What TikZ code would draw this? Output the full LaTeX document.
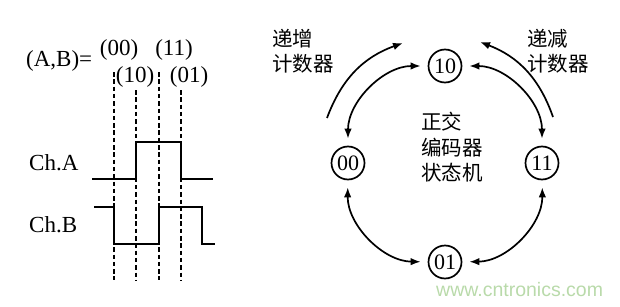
\documentclass[tikz,border=0pt]{standalone}
\usepackage{fontspec}
\setmainfont{Liberation Serif}
\newfontfamily\cjk{Noto Sans CJK SC}
\newfontfamily\wmfont{Liberation Sans}
\usetikzlibrary{arrows.meta}
\begin{document}
\begin{tikzpicture}[x=1pt,y=1pt,
  lbl/.style={font=\fontsize{23}{26}\selectfont, inner sep=0pt},
  cjklbl/.style={font=\cjk\fontsize{20.5}{25.5}\selectfont, align=left, inner sep=0pt, anchor=north west},
  sig/.style={line width=2.2pt},
  guide/.style={line width=2.1pt, dash pattern=on 4.5pt off 2.8pt},
  state/.style={circle, draw, line width=1.7pt, minimum size=33pt, inner sep=0pt, font=\fontsize{22}{24}\selectfont},
  conn/.style={line width=1.7pt, {Latex[length=10pt,width=7.5pt]}-{Latex[length=10pt,width=7.5pt]}, shorten <=7pt, shorten >=7pt},
  outer/.style={line width=1.7pt, -{Latex[length=10pt,width=7.5pt]}}
]
\useasboundingbox (0,0) rectangle (620,306);

% ---------- left: timing diagram ----------
\node[lbl, anchor=west] (ab) at (26,245) {(A,B)=};
\node[lbl] (l00) at (119,256) {(00)};
\node[lbl] (l11) at (174,256) {(11)};
\node[lbl] (l10) at (135,229) {(10)};
\node[lbl] (l01) at (189,229) {(01)};
\node[lbl, anchor=west] (cha) at (29,143) {Ch.A};
\node[lbl, anchor=west] (chb) at (29,81) {Ch.B};

\coordinate (g1t) at (114,234); \coordinate (g1b) at (114,26);
\coordinate (g2t) at (136,216); \coordinate (g2b) at (136,26);
\coordinate (g3t) at (159,234); \coordinate (g3b) at (159,26);
\coordinate (g4t) at (181,216); \coordinate (g4b) at (181,26);
\draw[guide] (g1t) -- (g1b);
\draw[guide] (g2t) -- (g2b);
\draw[guide] (g3t) -- (g3b);
\draw[guide] (g4t) -- (g4b);

\coordinate (a0) at (92,127);
\coordinate (a1) at (213,127);
\draw[sig] (a0) -- (136,127) -- (136,164) -- (181,164) -- (181,127) -- (a1);
\coordinate (b0) at (94,99);
\coordinate (b1) at (215,62);
\draw[sig] (b0) -- (114,99) -- (114,62) -- (159,62) -- (159,99) -- (202,99) -- (202,62) -- (b1);

% ---------- right: state machine ----------
\node[state] (s10) at (445,240) {10};
\node[state] (s00) at (348,143) {00};
\node[state] (s11) at (542,143) {11};
\node[state] (s01) at (445,44) {01};

\draw[conn] (s10) to[bend right=45] (s00);
\draw[conn] (s00) to[bend right=45] (s01);
\draw[conn] (s01) to[bend right=45] (s11);
\draw[conn] (s11) to[bend right=45] (s10);

\coordinate (up0) at (327,188);
\coordinate (up1) at (403,263);
\draw[outer] (up0) to[bend left=25] (up1);
\coordinate (dn0) at (553,189);
\coordinate (dn1) at (480,264);
\draw[outer] (dn0) to[bend right=25] (dn1);

\node[cjklbl] (inc) at (272,277) {递增\\计数器};
\node[cjklbl] (dec) at (527,277) {递减\\计数器};
\node[cjklbl] (mid) at (421,194) {正交\\编码器\\状态机};

\node[font=\wmfont\fontsize{19.5}{22}\selectfont, text={rgb,255:red,185;green,218;blue,170}, anchor=west, inner sep=0pt] (wm) at (436,16) {www.cntronics.com};
\end{tikzpicture}
\end{document}
